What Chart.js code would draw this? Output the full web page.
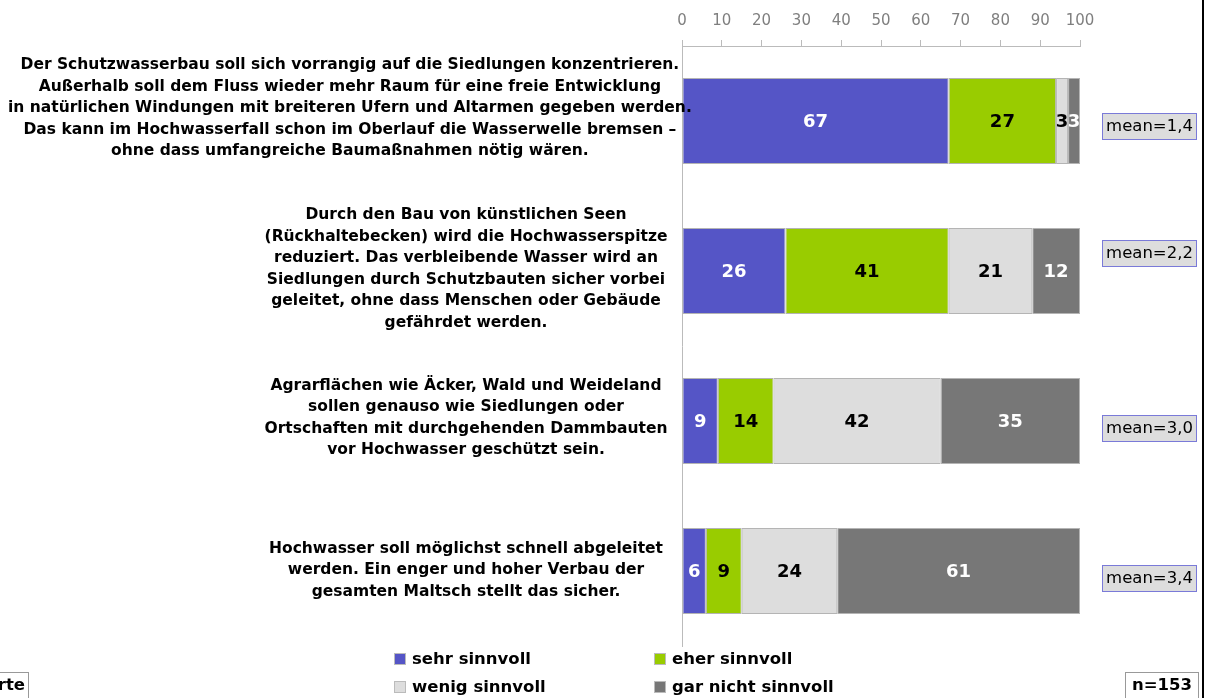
<!DOCTYPE html>
<html>
<head>
<meta charset="utf-8">
<script src="https://cdn.jsdelivr.net/npm/chart.js"></script>
<style>
  html, body { margin: 0; padding: 0; background: #fff; overflow: hidden; }
  canvas { display: block; }
</style>
</head>
<body>
<canvas id="chart" width="1207" height="698"></canvas>
<script>
// Aussagen (mehrzeilig, wie im Original umbrochen)
const categories = [
    ['Der Schutzwasserbau soll sich vorrangig auf die Siedlungen konzentrieren.',
     'Außerhalb soll dem Fluss wieder mehr Raum für eine freie Entwicklung',
     'in natürlichen Windungen mit breiteren Ufern und Altarmen gegeben werden.',
     'Das kann im Hochwasserfall schon im Oberlauf die Wasserwelle bremsen –',
     'ohne dass umfangreiche Baumaßnahmen nötig wären.'],
    ['Durch den Bau von künstlichen Seen',
     '(Rückhaltebecken) wird die Hochwasserspitze',
     'reduziert. Das verbleibende Wasser wird an',
     'Siedlungen durch Schutzbauten sicher vorbei',
     'geleitet, ohne dass Menschen oder Gebäude',
     'gefährdet werden.'],
    ['Agrarflächen wie Äcker, Wald und Weideland',
     'sollen genauso wie Siedlungen oder',
     'Ortschaften mit durchgehenden Dammbauten',
     'vor Hochwasser geschützt sein.'],
    ['Hochwasser soll möglichst schnell abgeleitet',
     'werden. Ein enger und hoher Verbau der',
     'gesamten Maltsch stellt das sicher.']
];

// Prozentwerte je Antwortkategorie
const sehrSinnvoll = [67, 26, 9, 6];
const eherSinnvoll = [27, 41, 14, 9];
const wenigSinnvoll = [3, 21, 42, 24];
const garNichtSinnvoll = [3, 12, 35, 61];

const seriesNames = ['sehr sinnvoll', 'eher sinnvoll', 'wenig sinnvoll', 'gar nicht sinnvoll'];
const meanValues = ['1,4', '2,2', '3,0', '3,4'];
const sampleSize = 'n=153';
const sourceNote = 'Werte';

const FONT = '"DejaVu Sans", sans-serif';

// Zeichnet Werte, Beschriftungen, Mittelwerte und Legende
const extras = {
    id: 'extras',
    afterDatasetsDraw(chart) {
        const ctx = chart.ctx;
        ctx.save();
        ctx.font = 'bold 18px ' + FONT;
        ctx.textAlign = 'center';
        ctx.textBaseline = 'middle';
        chart.data.datasets.forEach((ds, i) => {
            chart.getDatasetMeta(i).data.forEach((bar, j) => {
                const p = bar.getProps(['x', 'y', 'base'], true);
                ctx.fillStyle = ds.labelColor;
                ctx.fillText(ds.data[j], (p.x + p.base) / 2, p.y + 1);
            });
        });
        ctx.restore();
    },
    afterDraw(chart) {
        const ctx = chart.ctx;
        const yScale = chart.scales.y;
        const left = chart.chartArea.left;
        ctx.save();

        // Aussagen links
        const labelShift = [-13, -2, -3, -1];
        const lineH = 21.5;
        ctx.font = 'bold 15.5px ' + FONT;
        ctx.fillStyle = '#000';
        ctx.textAlign = 'center';
        ctx.textBaseline = 'middle';
        categories.forEach((lines, i) => {
            const maxW = Math.max(...lines.map(l => ctx.measureText(l).width));
            const cx = maxW > 440 ? maxW / 2 + 8 : left - 216;
            const cy = yScale.getPixelForValue(i) + labelShift[i];
            const top = cy - (lines.length - 1) * lineH / 2;
            lines.forEach((l, k) => ctx.fillText(l, cx, top + k * lineH));
        });

        // Mittelwert-Kästchen rechts
        const meanShift = [5, -18, 7, 7];
        ctx.font = '16.5px ' + FONT;
        meanValues.forEach((m, i) => {
            const cy = yScale.getPixelForValue(i) + meanShift[i];
            ctx.fillStyle = '#dddddd';
            ctx.fillRect(1102, cy - 13, 95, 27);
            ctx.strokeStyle = '#7a7ad8';
            ctx.lineWidth = 1;
            ctx.strokeRect(1102.5, cy - 12.5, 94, 26);
            ctx.fillStyle = '#000';
            ctx.fillText('mean=' + m, 1149.5, cy + 1);
        });

        // Legende 2x2
        const spots = [[394, 659], [654, 659], [394, 687], [654, 687]];
        ctx.font = 'bold 16.5px ' + FONT;
        ctx.textAlign = 'left';
        chart.data.datasets.forEach((ds, i) => {
            const [x, y] = spots[i];
            ctx.fillStyle = ds.backgroundColor;
            ctx.fillRect(x, y - 6, 12, 12);
            ctx.strokeStyle = '#bbbbbb';
            ctx.strokeRect(x + 0.5, y - 5.5, 11, 11);
            ctx.fillStyle = '#000';
            ctx.fillText(ds.label, x + 18, y + 1);
        });

        // n-Kästchen und abgeschnittener Hinweis
        ctx.strokeStyle = '#999999';
        ctx.strokeRect(1125.5, 672.5, 73, 30);
        ctx.textAlign = 'center';
        ctx.fillText(sampleSize, 1162, 686);
        ctx.strokeRect(-1.5, 672.5, 30, 30);
        ctx.textAlign = 'right';
        ctx.fillText(sourceNote, 25, 686);

        // Rahmenlinie rechts
        ctx.fillStyle = '#000';
        ctx.fillRect(1202, 0, 2, 698);
        ctx.restore();
    }
};

const colors = ['#5555c6', '#99cc00', '#dddddd', '#777777'];
const textColors = ['#ffffff', '#000000', '#000000', '#ffffff'];
const values = [sehrSinnvoll, eherSinnvoll, wenigSinnvoll, garNichtSinnvoll];

new Chart(document.getElementById('chart'), {
    type: 'bar',
    data: {
        labels: categories,
        datasets: values.map((v, i) => ({
            label: seriesNames[i],
            data: v,
            backgroundColor: colors[i],
            borderColor: '#b4b4b4',
            borderWidth: 1,
            borderSkipped: false,
            labelColor: textColors[i],
            categoryPercentage: 1,
            barPercentage: 0.573
        }))
    },
    options: {
        indexAxis: 'y',
        responsive: false,
        animation: false,
        devicePixelRatio: 1,
        layout: { padding: { left: 674, right: 127, top: 2, bottom: 52 } },
        plugins: { legend: { display: false }, tooltip: { enabled: false } },
        scales: {
            x: {
                position: 'top',
                stacked: true,
                min: 0,
                max: 100,
                ticks: { stepSize: 10, color: '#7f7f7f', padding: 10, font: { family: FONT, size: 15 } },
                grid: { drawOnChartArea: false, tickLength: 6, color: '#bbbbbb' },
                border: { color: '#bbbbbb' }
            },
            y: {
                stacked: true,
                ticks: { display: false },
                grid: { display: false },
                border: { color: '#bbbbbb' }
            }
        }
    },
    plugins: [extras]
});
</script>
</body>
</html>
